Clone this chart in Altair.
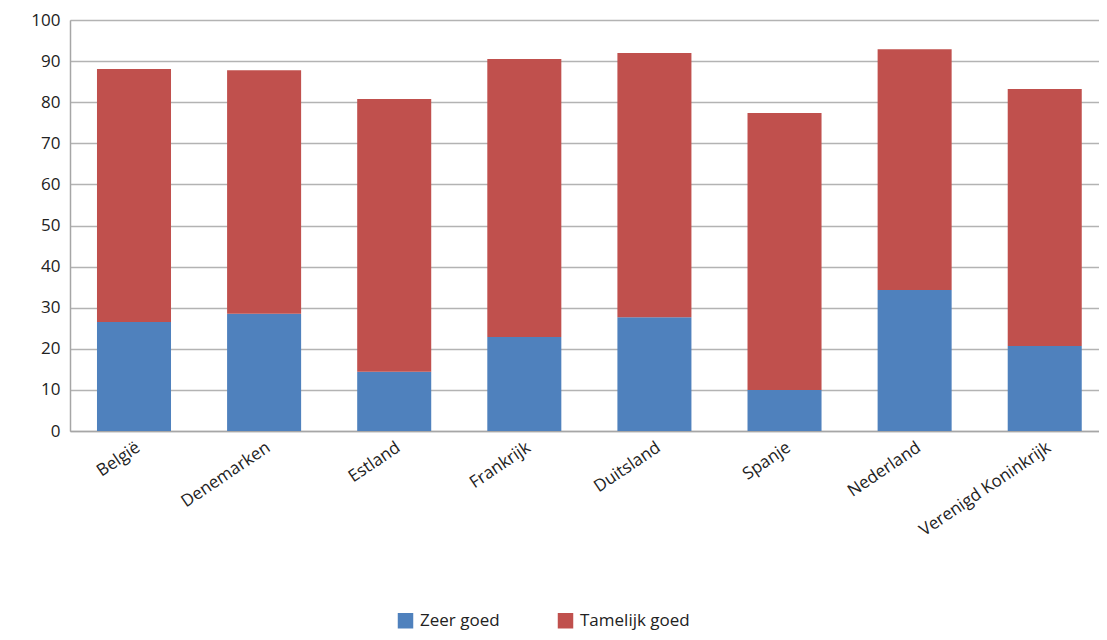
import altair as alt
import pandas as pd

countries = ["België", "Denemarken", "Estland", "Frankrijk", "Duitsland", "Spanje", "Nederland", "Verenigd Koninkrijk"]
zeer_goed = [26.5, 28.5, 14.4, 22.9, 27.7, 10.0, 34.3, 20.7]
totaal = [88.1, 87.8, 80.8, 90.5, 92.0, 77.4, 92.9, 83.2]
tamelijk_goed = [round(t - z, 1) for t, z in zip(totaal, zeer_goed)]
series = ["Zeer goed", "Tamelijk goed"]
colors = ["#4F81BD", "#C0504D"]

rows = []
for c, z, t in zip(countries, zeer_goed, tamelijk_goed):
    rows.append({"land": c, "reeks": series[0], "waarde": z, "volg": 0})
    rows.append({"land": c, "reeks": series[1], "waarde": t, "volg": 1})
df = pd.DataFrame(rows)

font = "Open Sans"

chart = alt.Chart(df).mark_bar(opacity=1).encode(
    x=alt.X("land:N", sort=countries, title=None,
            scale=alt.Scale(paddingInner=0.431, paddingOuter=0.17, align=0.61),
            axis=alt.Axis(labelAngle=-34, labelAlign="right", labelBaseline="top",
                          labelFontSize=17, labelColor="#222222", labelFont=font,
                          ticks=False, domain=True, domainColor="#a6a6a6", domainWidth=1.5,
                          labelPadding=8, grid=False, labelLimit=300)),
    y=alt.Y("waarde:Q", stack="zero", title=None,
            scale=alt.Scale(domain=[0, 100], nice=False),
            axis=alt.Axis(values=list(range(0, 101, 10)), ticks=False,
                          labelFontSize=17, labelColor="#222222", labelFont=font,
                          labelPadding=10, domain=True, domainColor="#a6a6a6", domainWidth=1.5,
                          grid=True, gridColor="#b3b3b3", gridWidth=1.5)),
    color=alt.Color("reeks:N", sort=series,
                    scale=alt.Scale(domain=series, range=colors),
                    legend=alt.Legend(title=None, orient="none", direction="horizontal",
                                      legendX=327, legendY=592, symbolType="square",
                                      symbolSize=240, symbolStrokeWidth=0, labelFontSize=17,
                                      labelFont=font, labelColor="#222222",
                                      columnPadding=57, labelOffset=6)),
    order=alt.Order("volg:Q"),
).properties(
    width=1029, height=411,
    autosize=alt.AutoSizeParams(type="none"),
    padding={"left": 62, "top": 12, "right": 0, "bottom": 201},
).configure_view(stroke=None).configure(background="white")

chart.save("out.html", embed_options={"renderer": "svg", "actions": False})
